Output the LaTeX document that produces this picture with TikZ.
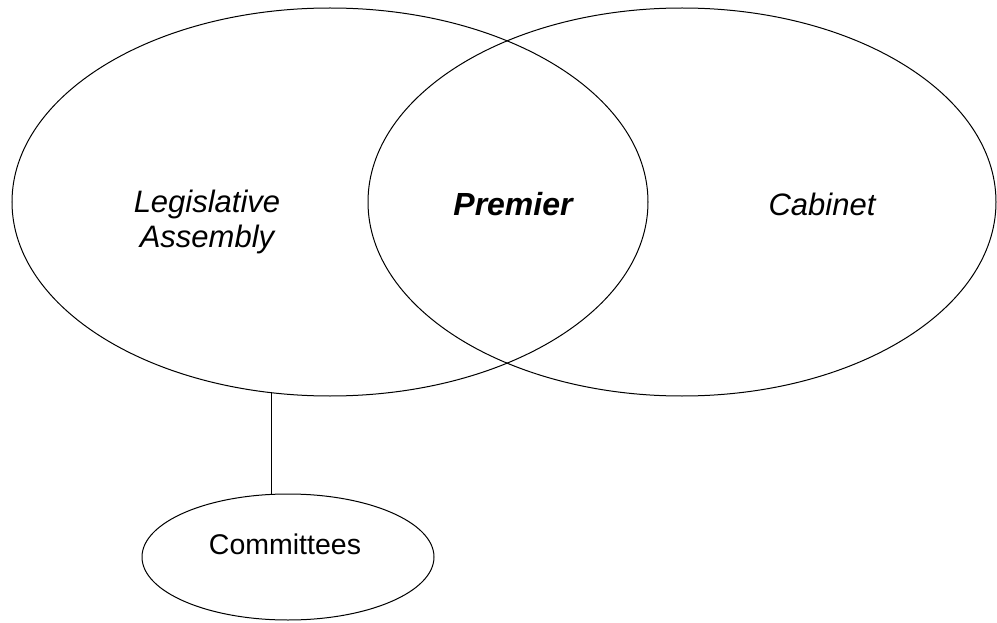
\documentclass[tikz,border=0pt]{standalone}
\usepackage{fontspec}
\setmainfont{Liberation Sans}
\usetikzlibrary{shapes.geometric}

\begin{document}
\begin{tikzpicture}[x=1pt, y=-1pt]
        \tikzstyle{every node}=[inner sep=0pt]
        \tikzstyle{body}=[draw, ellipse, line width=1pt]
        \tikzstyle{label}=[font=\fontsize{31}{35}\selectfont\itshape, align=center]

        \useasboundingbox (0,0) rectangle (997,623);

        \node (assembly) [body, minimum width=636pt, minimum height=388pt] at (330,202) {};
        \node (cabinet)  [body, minimum width=628pt, minimum height=388pt] at (682,202) {};
        \node (committees) [body, minimum width=292pt, minimum height=126pt] at (288,557) {};

        \node (assembly text) [label] at (207,222) {Legislative\\Assembly};
        \node (premier text) [label, font=\fontsize{32}{35}\selectfont\bfseries\itshape] at (513,204) {Premier};
        \node (cabinet text) [label] at (822,204) {Cabinet};
        \node (committees text) [font=\fontsize{28.5}{33}\selectfont] at (285,544) {Committees};

        \draw[line width=1pt] (assembly.-107.9) -- (assembly.-107.9 |- committees.north);

    \end{tikzpicture}
\end{document}
